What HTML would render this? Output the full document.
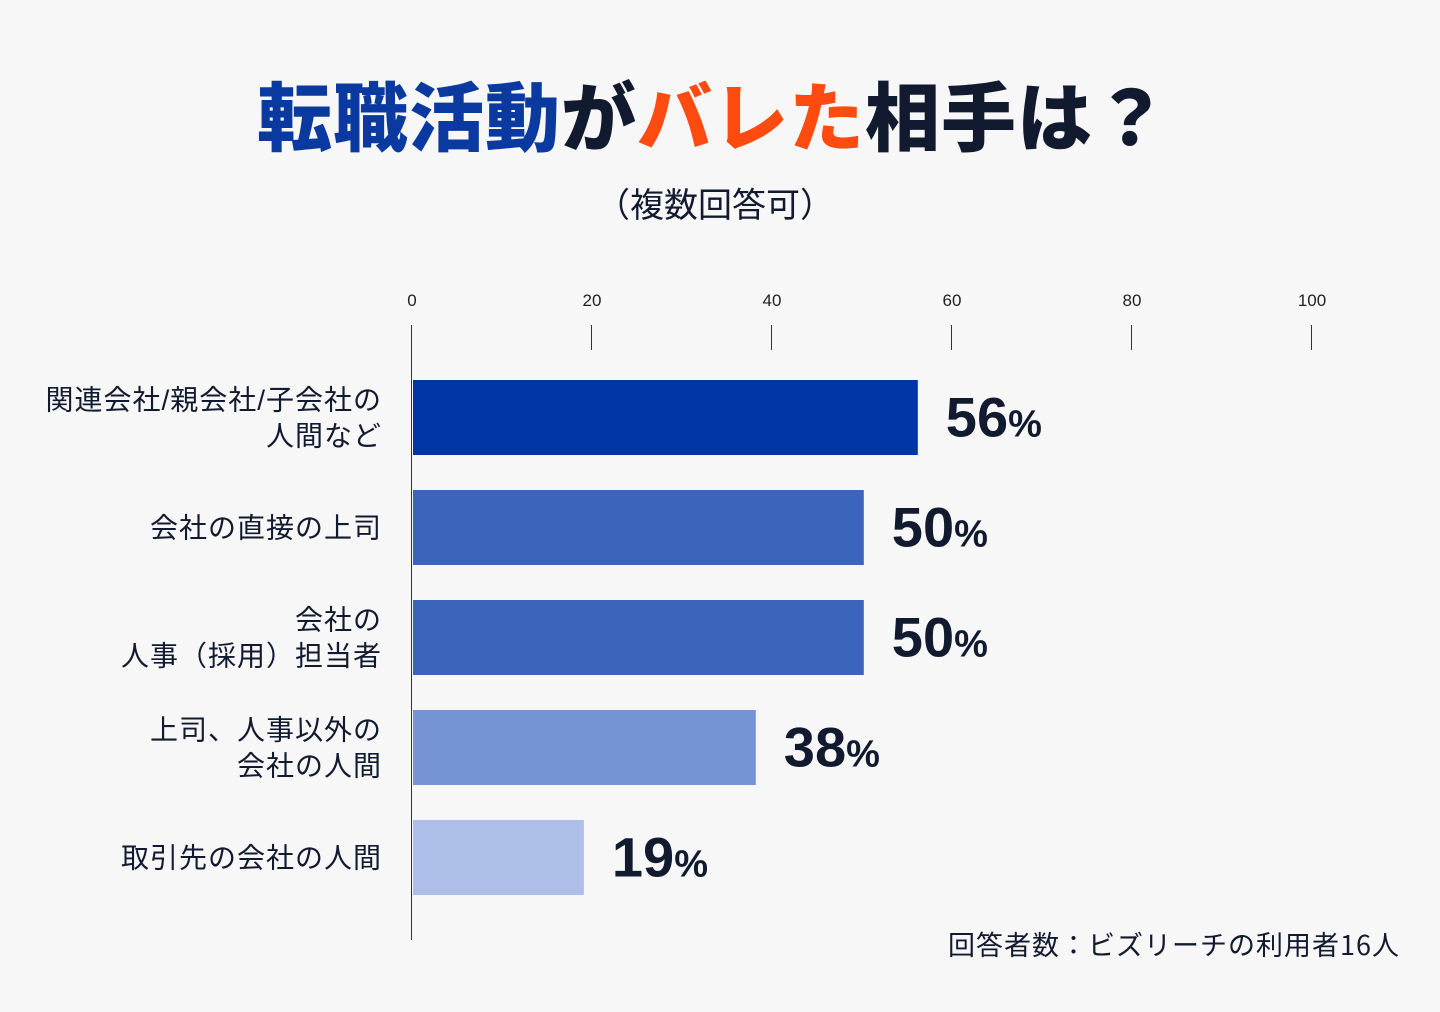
<!DOCTYPE html>
<html><head><meta charset="utf-8"><style>
body{margin:0;background:#f7f7f7;}
#c{position:relative;width:1440px;height:1012px;background:#f7f7f7;font-family:"Liberation Sans","Noto Sans CJK JP",sans-serif;color:#111a2e;overflow:hidden}
.t{position:absolute;white-space:nowrap}
</style></head><body>
<div id="c">
<div class="t" style="left:0;width:1426px;text-align:center;top:58px;font-size:75px;font-weight:900;font-family:'Noto Sans CJK JP',sans-serif;letter-spacing:1px"><span style="color:#0a3aa0">転職活動</span><span style="color:#111a2e">が</span><span style="color:#ff4a10">バレた</span><span style="color:#111a2e">相手は？</span></div>
<div class="t" style="left:0;width:1430px;text-align:center;top:178px;font-size:34px;font-family:'Noto Sans CJK JP',sans-serif">（複数回答可）</div>
<svg id="s" width="1440" height="1012" style="position:absolute;left:0;top:0"></svg>
<div class="t" style="right:40px;top:924px;font-size:27px;letter-spacing:1px;font-family:'Noto Sans CJK JP',sans-serif">回答者数：ビズリーチの利用者16人</div>
</div>
<script>
const categories=[["関連会社/親会社/子会社の","人間など"],["会社の直接の上司"],["会社の","人事（採用）担当者"],["上司、人事以外の","会社の人間"],["取引先の会社の人間"]];
const values=[56.2,50.2,50.2,38.2,19.1];
const valueLabels=["56","50","50","38","19"];
const ticks=[0,20,40,60,80,100];
const colors=["#0035a6","#3a65bb","#3a65bb","#7694d3","#adbfe8"];
const NS="http://www.w3.org/2000/svg";
const svg=document.getElementById('s');
const x=v=>412+v*9;
const yTop=i=>380+i*110;
function mk(t,a){const e=document.createElementNS(NS,t);for(const k in a)e.setAttribute(k,a[k]);svg.appendChild(e);return e;}
const ax=mk('line',{x1:411.5,x2:411.5,y1:325,y2:940,stroke:'#333',"stroke-width":1});


ticks.forEach(t=>{
  if(t>0){const l=mk('line',{x1:x(t)-0.5,x2:x(t)-0.5,y1:325,y2:350,stroke:'#333',"stroke-width":1});
  
  }
  const tx=mk('text',{x:x(t),y:306,"text-anchor":"middle","font-size":17,fill:'#222',"font-family":"Liberation Sans, sans-serif"});
  tx.textContent=t;
  
  
});
values.forEach((v,i)=>{
  const r=mk('rect',{x:413,y:yTop(i),width:x(v)-413,height:75,fill:colors[i]});
  
  
  const cy=yTop(i)+37.5;
  const lab=mk('text',{x:x(v)+28,y:cy+19,"font-size":56,"font-weight":"bold",fill:'#111a2e',"font-family":"Liberation Sans, sans-serif"});
  lab.innerHTML=valueLabels[i]+'<tspan font-size="38">%</tspan>';
  
  
  const lines=categories[i];
  lines.forEach((ln,j)=>{
    const ty=cy+10+(j-(lines.length-1)/2)*36;
    const c=mk('text',{x:382,y:ty,"text-anchor":"end","font-size":28,"letter-spacing":1,fill:'#111a2e',"font-family":"Liberation Sans, Noto Sans CJK JP, sans-serif"});
    c.textContent=ln;
    
    
  });
});
</script>
</body></html>
